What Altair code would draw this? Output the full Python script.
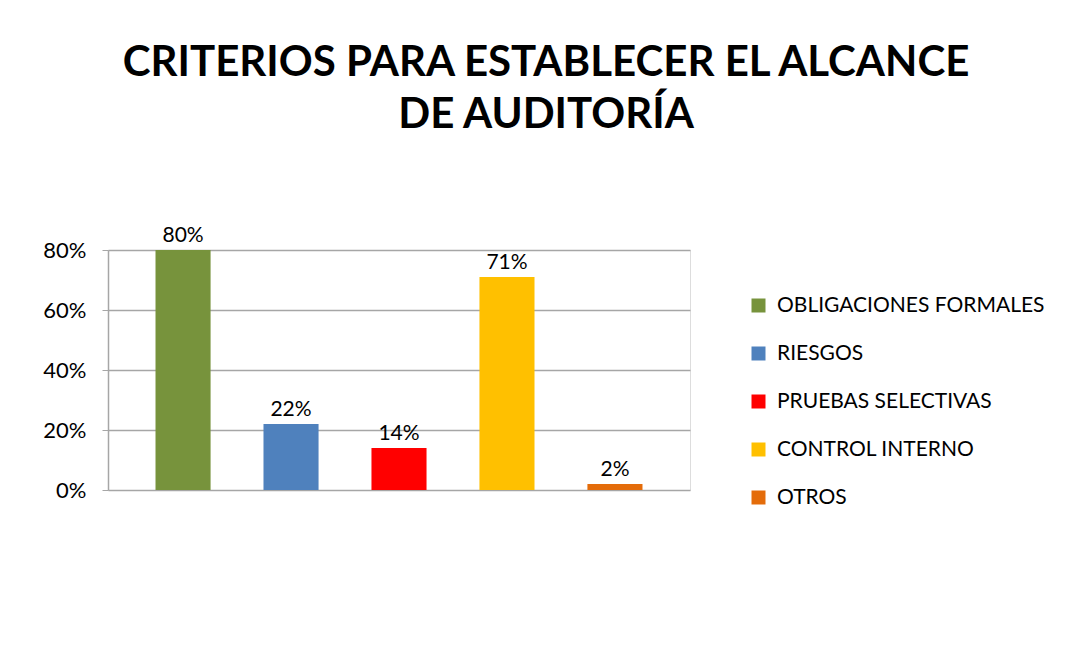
import altair as alt
import pandas as pd

categories = ["OBLIGACIONES FORMALES", "RIESGOS", "PRUEBAS SELECTIVAS", "CONTROL INTERNO", "OTROS"]
values = [0.80, 0.22, 0.14, 0.71, 0.02]
labels = ["80%", "22%", "14%", "71%", "2%"]
colors = ["#77933C", "#4F81BD", "#FF0000", "#FFC000", "#E46C0A"]
y_ticks = [0, 0.2, 0.4, 0.6, 0.8]

df = pd.DataFrame({"cat": categories, "val": values, "lab": labels})

x = alt.X("cat:N", sort=categories, axis=None,
          scale=alt.Scale(paddingInner=0.49, paddingOuter=0.44))
y = alt.Y("val:Q", scale=alt.Scale(domain=[0, 0.8]),
          axis=alt.Axis(values=y_ticks, format=".0%", title=None, labelFontSize=22,
                        labelFont="Lato", labelColor="#000000", labelPadding=16,
                        tickColor="#A6A6A6", tickSize=6, domainColor="#A6A6A6",
                        domainWidth=1.5, gridColor="#A6A6A6", gridWidth=1.5))

bars = alt.Chart(df).mark_bar().encode(
    x=x, y=y,
    color=alt.Color("cat:N", sort=categories,
                    scale=alt.Scale(domain=categories, range=colors),
                    legend=alt.Legend(title=None, orient="none", legendX=640, legendY=45,
                                      symbolType="square", symbolSize=196,
                                      symbolStrokeWidth=0, labelFontSize=21,
                                      labelFont="Lato", labelColor="#000000",
                                      rowPadding=26, labelOffset=8, labelLimit=400))
)
text = alt.Chart(df).mark_text(dy=-14, fontSize=21, font="Lato", color="#000000").encode(
    x=x, y="val:Q", text="lab:N"
)

chart = alt.layer(bars, text).properties(
    width=582, height=240,
    autosize=alt.AutoSizeParams(type="none"),
    padding={"left": 100, "top": 242, "right": 370, "bottom": 150},
    title=alt.TitleParams(["CRITERIOS PARA ESTABLECER  EL ALCANCE", "DE AUDITORÍA"],
                          font="Lato", fontSize=42, fontWeight="bold", color="#000000",
                          anchor="middle", dx=147, offset=88, lineHeight=52)
).configure_view(stroke=None).configure(background="#FFFFFF")

chart.save("out.html", embed_options={"renderer": "svg", "actions": False})
